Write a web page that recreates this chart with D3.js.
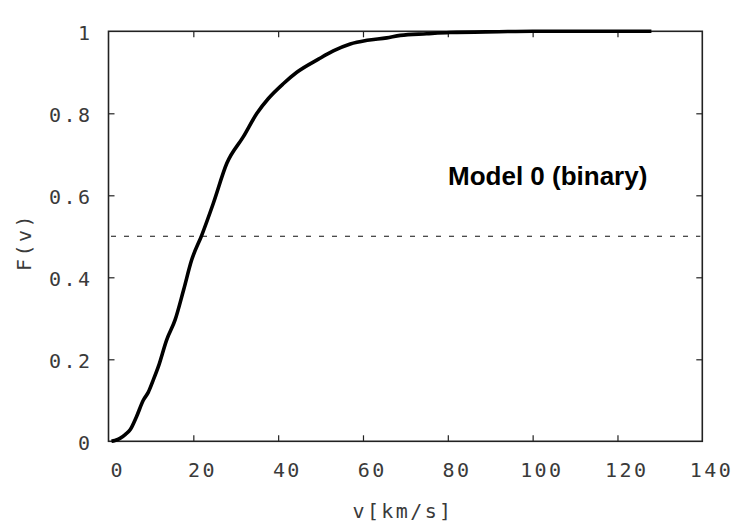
<!DOCTYPE html>
<html><head><meta charset="utf-8">
<script src="https://cdn.jsdelivr.net/npm/d3@7"></script>
<style>
html,body{margin:0;padding:0;background:#fff;}
svg{display:block;}
</style></head>
<body>
<svg id="chart" width="750" height="525"></svg>
<script>
const velocity = [0.7, 1.5, 2.7, 4, 5.1, 6.6, 8.2, 9.4, 10.5, 11.75, 13.7, 15.7, 17.7, 19.6, 22, 24.7, 27.9, 31.8, 35, 37.7, 41.2, 44.4, 49.5, 53, 57, 61, 65.6, 68.8, 75, 80.5, 92, 100, 110, 120, 128];
const cdf = [0, 0.002, 0.007, 0.017, 0.028, 0.06, 0.10, 0.12, 0.148, 0.182, 0.247, 0.296, 0.369, 0.442, 0.503, 0.58, 0.678, 0.743, 0.8, 0.836, 0.872, 0.9, 0.932, 0.952, 0.969, 0.978, 0.984, 0.99, 0.994, 0.997, 0.999, 1, 1, 1, 1];
const xTicks = [0, 20, 40, 60, 80, 100, 120, 140];
const yTicks = [0, 0.2, 0.4, 0.6, 0.8, 1];
const yTickLabels = ["0", "0.2", "0.4", "0.6", "0.8", "1"];
const medianLevel = [0.5];
const annotation = "Model 0 (binary)";
const xTitle = "v[km/s]";
const yTitle = "F(v)";

const L = 108.5, T = 31.3, R = 702.3, B = 441.3;
const svg = d3.select("#chart");
const x = d3.scaleLinear().domain([0, 140]).range([L, R]);
const y = d3.scaleLinear().domain([0, 1]).range([B, T]);

const monoFont = "'DejaVu Sans Mono', monospace";
const axisColor = "#222";
const textColor = "#3a3a3a";

// dashed median line
svg.selectAll("line.med").data(medianLevel).enter().append("line")
  .attr("x1", L + 2.5).attr("x2", R - 2)
  .attr("y1", d => y(d)).attr("y2", d => y(d))
  .attr("stroke", "#111").attr("stroke-width", 1.1)
  .attr("stroke-dasharray", "5,8");

// axes with inward ticks (mirrored)
const tickLen = 6;
const gB = svg.append("g").attr("transform", `translate(0,${B})`)
  .call(d3.axisBottom(x).tickValues(xTicks).tickSize(-tickLen).tickFormat(""));
const gT = svg.append("g").attr("transform", `translate(0,${T})`)
  .call(d3.axisTop(x).tickValues(xTicks).tickSize(-tickLen).tickFormat(""));
const gL = svg.append("g").attr("transform", `translate(${L},0)`)
  .call(d3.axisLeft(y).tickValues(yTicks).tickSize(-tickLen).tickFormat(""));
const gR = svg.append("g").attr("transform", `translate(${R},0)`)
  .call(d3.axisRight(y).tickValues(yTicks).tickSize(-tickLen).tickFormat(""));
[gB, gT, gL, gR].forEach(g => {
  g.select(".domain").remove();
  g.selectAll(".tick line").attr("stroke", axisColor).attr("stroke-width", 1.2);
});
gT.selectAll(".tick").filter(d => d === 0 || d === 140).remove();
gB.selectAll(".tick").filter(d => d === 0 || d === 140).remove();
gL.selectAll(".tick").filter(d => d === 0 || d === 1).remove();
gR.selectAll(".tick").filter(d => d === 0 || d === 1).remove();

// frame
svg.append("rect").attr("x", L).attr("y", T).attr("width", R - L).attr("height", B - T)
  .attr("fill", "none").attr("stroke", axisColor).attr("stroke-width", 1.6);

// tick labels
svg.append("g").selectAll("text").data(xTicks).enter().append("text")
  .attr("x", d => x(d) + 8 + 1.2).attr("y", 477)
  .attr("text-anchor", "middle")
  .attr("font-family", monoFont).attr("font-size", 20)
  .attr("letter-spacing", 2.4)
  .attr("fill", textColor)
  .text(d => String(d));

svg.append("g").selectAll("text").data(yTicks).enter().append("text")
  .attr("x", 90 + 2.4).attr("y", d => y(d) + 9)
  .attr("text-anchor", "end")
  .attr("font-family", monoFont).attr("font-size", 20)
  .attr("letter-spacing", 2.4)
  .attr("fill", textColor)
  .text((d, i) => yTickLabels[i]);

// axis titles
svg.append("text")
  .attr("x", 403).attr("y", 518)
  .attr("text-anchor", "middle")
  .attr("font-family", monoFont).attr("font-size", 20)
  .attr("letter-spacing", 2.4)
  .attr("fill", textColor)
  .text(xTitle);

svg.append("text")
  .attr("transform", "translate(31,242) rotate(-90)")
  .attr("text-anchor", "middle")
  .attr("font-family", monoFont).attr("font-size", 20)
  .attr("letter-spacing", 2.4)
  .attr("fill", textColor)
  .text(yTitle);

// curve
const pts = velocity.map((v, i) => [v, cdf[i]]);
svg.append("path")
  .datum(pts)
  .attr("d", d3.line().x(d => x(d[0])).y(d => y(d[1])).curve(d3.curveMonotoneX))
  .attr("fill", "none").attr("stroke", "#000").attr("stroke-width", 3.6)
  .attr("stroke-linejoin", "round").attr("stroke-linecap", "butt");

// annotation
svg.append("text")
  .attr("x", 448).attr("y", 185)
  .attr("font-family", "'Liberation Sans', Arial, sans-serif")
  .attr("font-weight", "bold").attr("font-size", 26)
  .attr("fill", "#000")
  .text(annotation);
</script>
</body></html>
